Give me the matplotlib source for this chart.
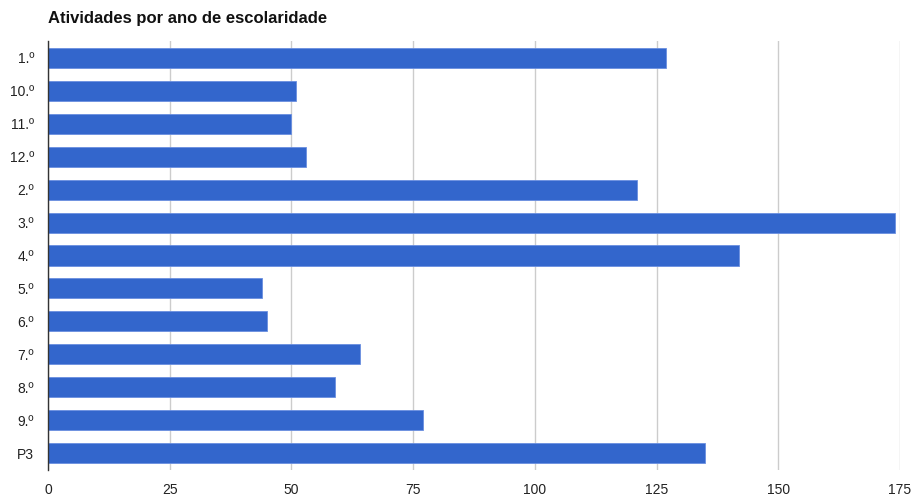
import matplotlib
matplotlib.use("Agg")
import matplotlib.pyplot as plt

categories = ["1.º", "10.º", "11.º", "12.º", "2.º", "3.º", "4.º", "5.º", "6.º", "7.º", "8.º", "9.º", "P3"]
values = [127, 51, 50, 53, 121, 174, 142, 44, 45, 64, 59, 77, 135]
xticks = [0, 25, 50, 75, 100, 125, 150, 175]
title = "Atividades por ano de escolaridade"

plt.rcParams['font.family'] = ['Liberation Sans', 'DejaVu Sans']

fig = plt.figure(figsize=(9.17, 4.97), dpi=100)
ax = fig.add_axes([0.0523, 0.0553, 0.9292, 0.8612])

pos = list(range(len(categories)))
ax.barh(pos, values, height=0.61, color="#3366CC", edgecolor="#6a8fe0", linewidth=0.6, zorder=3)
ax.set_ylim(len(categories) - 0.5, -0.5)
ax.set_xlim(0, 175)
ax.set_yticks(pos)
ax.set_yticklabels(categories)
ax.set_xticks(xticks)
ax.set_xticklabels([str(t) for t in xticks])

ax.grid(axis="x", color="#cccccc", linewidth=1, zorder=0)
ax.grid(axis="y", visible=False)
for s in ["top", "right", "bottom"]:
    ax.spines[s].set_visible(False)
ax.spines["left"].set_color("#333333")
ax.spines["left"].set_linewidth(1)
ax.spines["left"].set_zorder(4)
ax.tick_params(axis="both", length=0, labelsize=10, labelcolor="#222222")
ax.tick_params(axis="x", pad=10)
ax.tick_params(axis="y", pad=10)

fig.text(0.0523, 0.963, title, fontsize=12, fontweight="bold", color="#111111", ha="left", va="center")

fig.savefig("out.png", dpi=100)
